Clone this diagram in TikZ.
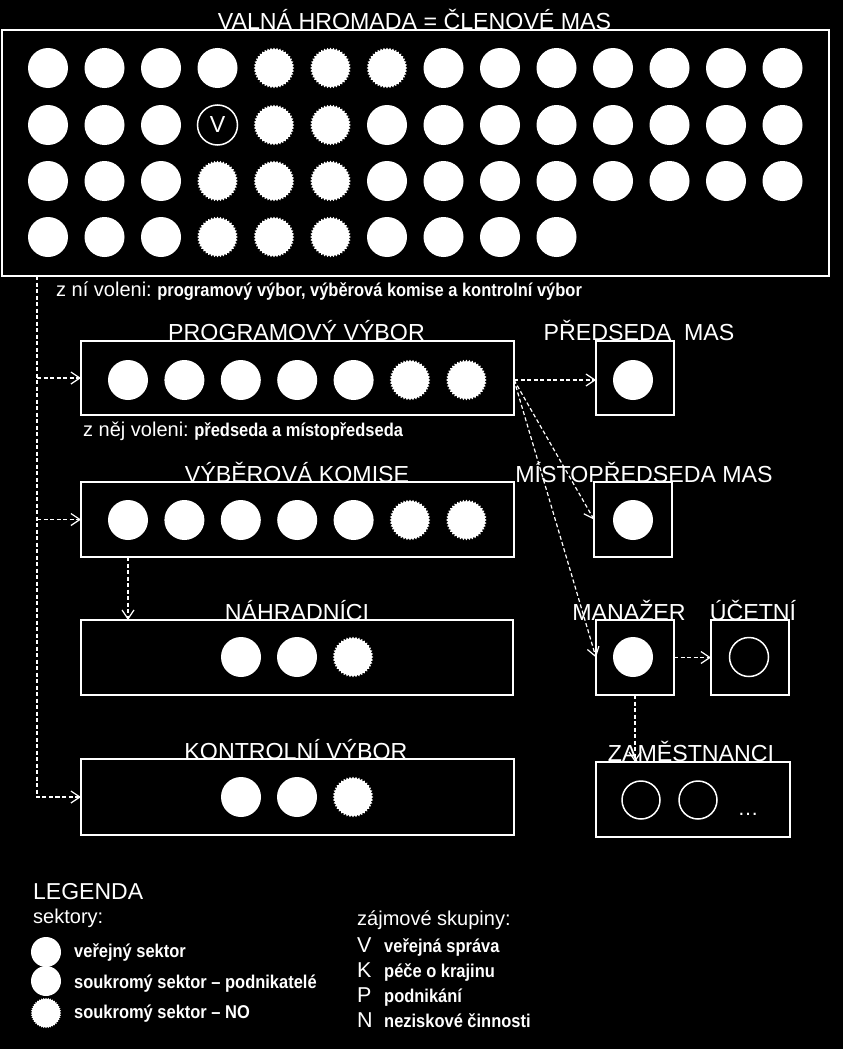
\documentclass[tikz,border=0pt]{standalone}
\usepackage{fontspec}
\setmainfont{Liberation Sans}
\newfontfamily\nbf{Liberation Sans}[FakeStretch=0.89]
\usetikzlibrary{arrows.meta}
\newcommand\bsm{\nbf\bfseries\fontsize{18.5}{19}\selectfont}
\newcommand\rsm{\fontsize{20}{21}\selectfont}
\newcommand\ttlf{\fontsize{23.2}{23}\selectfont}
\tikzset{
  box/.style={draw=white, line width=1.5pt, rectangle, inner sep=0pt, outer sep=0pt},
  ttl/.style={text=white, font=\ttlf, anchor=base, inner sep=0pt},
  txt/.style={text=white, anchor=base west, inner sep=0pt},
  dl/.style={draw=white, line width=1.2pt, dash pattern=on 4pt off 2.5pt,
    -{Straight Barb[length=9pt,width=12pt]}},
  pics/mem/.style={code={%
    \ifcase#1
      \fill[white] (0,0) circle[radius=20];
    \or
      \fill[white] plot[samples=81,domain=0:360,variable=\a] (\a:{19.3+1.0*cos(40*\a)}) -- cycle;
    \or
    \fi}},
}
\begin{document}
\begin{tikzpicture}[x=1pt,y=-1pt]
\fill[black] (0,0) rectangle (843,1049);
\useasboundingbox (0,0) rectangle (843,1049);

% ---- Valna hromada
\node[ttl] (tvh) at (414.5,30) {VALNÁ HROMADA = ČLENOVÉ MAS};
\node[box, minimum width=827, minimum height=246] (vh) at (415.5,153) {};
\foreach \k [count=\i from 0] in {0,0,0,0,1,1,1,0,0,0,0,0,0,0}
  \pic at ({48+56.5*\i},68) {mem=\k};
\foreach \k [count=\i from 0] in {0,0,0,2,1,1,0,0,0,0,0,0,0,0}
  \pic at ({48+56.5*\i},125) {mem=\k};
\foreach \k [count=\i from 0] in {0,0,0,1,1,1,0,0,0,0,0,0,0,0}
  \pic at ({48+56.5*\i},181) {mem=\k};
\foreach \k [count=\i from 0] in {0,0,0,1,1,1,0,0,0,0}
  \pic at ({48+56.5*\i},237) {mem=\k};
\node[circle, draw=white, line width=1.5pt, minimum size=40, inner sep=0pt,
  text=white, font=\ttlf] (v) at (217.5,125) {V};

\node[txt, font=\rsm] (zni) at (56,296) {z ní voleni:\ {\bsm programový výbor, výběrová komise a kontrolní výbor}};

% ---- Programovy vybor
\node[ttl] (tpv) at (296.5,340) {PROGRAMOVÝ VÝBOR};
\node[box, minimum width=433, minimum height=74] (pv) at (297.5,378) {};
\foreach \k [count=\i from 0] in {0,0,0,0,0,1,1}
  \pic at ({128+56.4*\i},380) {mem=\k};
\node[txt, font=\rsm] (znej) at (83,436) {z něj voleni:\ {\bsm předseda a místopředseda}};

\node[ttl] (tpred) at (639,340) {PŘEDSEDA\ \ MAS};
\node[box, minimum width=78, minimum height=74] (pred) at (635,378) {};
\pic at (633,380) {mem=0};

% ---- Vyberova komise
\node[ttl] (tvk) at (297,482) {VÝBĚROVÁ KOMISE};
\node[box, minimum width=433, minimum height=75] (vk) at (297.5,519.5) {};
\foreach \k [count=\i from 0] in {0,0,0,0,0,1,1}
  \pic at ({128+56.4*\i},520) {mem=\k};

\node[ttl] (tmist) at (644,482) {MÍSTOPŘEDSEDA MAS};
\node[box, minimum width=78, minimum height=75] (mist) at (633,519.5) {};
\pic at (633,520) {mem=0};

% ---- Nahradnici
\node[ttl] (tnah) at (297,620) {NÁHRADNÍCI};
\node[box, minimum width=432, minimum height=75] (nah) at (297,657.5) {};
\foreach \k [count=\i from 0] in {0,0,1}
  \pic at ({241+56*\i},657) {mem=\k};

\node[ttl] (tman) at (629,620) {MANAŽER};
\node[box, minimum width=78, minimum height=75] (man) at (635,657.5) {};
\pic at (633,657) {mem=0};

\node[ttl] (tuc) at (753,620) {ÚČETNÍ};
\node[box, minimum width=78, minimum height=75] (uc) at (750,657.5) {};
\draw[white, line width=1.5pt] (749,657) circle[radius=19.5];

% ---- Kontrolni vybor
\node[ttl] (tkv) at (296,759) {KONTROLNÍ VÝBOR};
\node[box, minimum width=433, minimum height=76] (kv) at (297.5,797) {};
\foreach \k [count=\i from 0] in {0,0,1}
  \pic at ({241+56*\i},797) {mem=\k};

\node[ttl] (tzam) at (691,761) {ZAMĚSTNANCI};
\node[box, minimum width=194, minimum height=75] (zam) at (693,799.5) {};
\draw[white, line width=1.5pt] (641,800) circle[radius=19] (698,800) circle[radius=19];
\node[text=white, font=\fontsize{21}{21}\selectfont, anchor=base, inner sep=0pt] (dots) at (748,815) {…};

% ---- connectors
\coordinate (tr) at ([xshift=35pt]vh.south west);
\draw[dl] (tr) |- (kv.west);
\draw[dl] (tr |- pv.west) -- (pv.west);
\draw[dl] (tr |- vk.west) -- (vk.west);
\draw[dl] ([yshift=-2pt]pv.east) -- ([yshift=-2pt]pred.west);
\draw[dl] ([yshift=-2pt]pv.east) -- (mist.west);
\draw[dl] ([yshift=-2pt]pv.east) -- (man.west);
\draw[dl] ([xshift=47pt]vk.south west) -- ([xshift=47pt]nah.north west);
\draw[dl] (man.east) -- (uc.west);
\draw[dl] (man.south) -- (man.south |- zam.north);

% ---- legend
\node[txt, font=\fontsize{23}{23}\selectfont] (leg) at (33,899) {LEGENDA};
\node[txt, font=\rsm] (sek) at (33,923) {sektory:};
\pic[scale=0.75] at (46,952) {mem=0};
\pic[scale=0.75] at (46,981) {mem=0};
\pic[scale=0.75] at (46,1013) {mem=1};
\node[txt, font=\bsm] (l1) at (74,957) {veřejný sektor};
\node[txt, font=\bsm] (l2) at (74,988) {soukromý sektor – podnikatelé};
\node[txt, font=\bsm] (l3) at (74,1018) {soukromý sektor – NO};

\node[txt, font=\rsm] (zaj) at (357,925) {zájmové skupiny:};
\node[txt, font=\fontsize{21.5}{21}\selectfont] (gv) at (357,952) {V};
\node[txt, font=\fontsize{21.5}{21}\selectfont] (gk) at (357,977) {K};
\node[txt, font=\fontsize{21.5}{21}\selectfont] (gp) at (357,1002) {P};
\node[txt, font=\fontsize{21.5}{21}\selectfont] (gn) at (357,1027) {N};
\node[txt, font=\bsm] (s1) at (384,952) {veřejná správa};
\node[txt, font=\bsm] (s2) at (384,977) {péče o krajinu};
\node[txt, font=\bsm] (s3) at (384,1002) {podnikání};
\node[txt, font=\bsm] (s4) at (384,1027) {neziskové činnosti};
\end{tikzpicture}
\end{document}
